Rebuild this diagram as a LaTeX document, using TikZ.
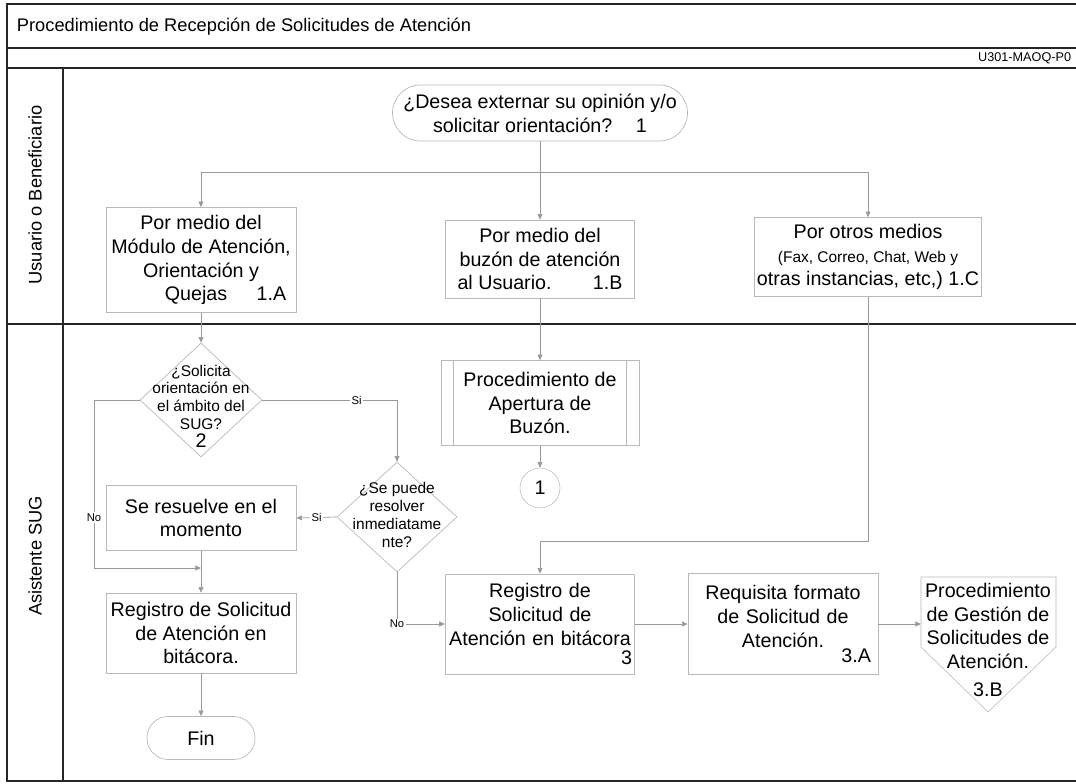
\documentclass[tikz,border=0pt]{standalone}
\usepackage{fontspec}
\setmainfont{Liberation Sans}
\usetikzlibrary{shapes.geometric,arrows.meta}
\newcommand{\boxfont}{\fontsize{14}{17}\selectfont}
\newcommand{\askfont}{\fontsize{11}{12.6}\selectfont}
\newcommand{\notefont}{\fontsize{11}{13}\selectfont}
\newcommand{\tagfont}{\fontsize{8}{9}\selectfont}
\begin{document}
\begin{tikzpicture}[
  proc/.style={draw=gray!55, line width=0.5pt, align=center, font=\boxfont, inner sep=2pt},
  term/.style={proc, rounded corners=0.7cm},
  decision/.style={draw=gray!55, line width=0.5pt, diamond, inner sep=0pt},
  ask/.style={align=center, font=\askfont, inner sep=0pt},
  flow/.style={draw=gray!80, line width=0.5pt, -{Triangle[length=4pt,width=3.5pt]}},
  tag/.style={fill=white, font=\tagfont, inner sep=1pt},
  lane/.style={rotate=90, font=\fontsize{13}{15}\selectfont},
  frame/.style={line width=1.2pt, draw=black!85}
]
\useasboundingbox (0,0) rectangle (26.9,-19.6);

% frame and lanes
\draw[frame] (27,-0.1) -- (0.175,-0.1) -- (0.175,-19.525) -- (27,-19.525);
\draw[frame] (0.175,-1.2) -- (27,-1.2);
\draw[frame] (0.175,-1.7) -- (27,-1.7);
\draw[frame] (0.175,-8.1) -- (27,-8.1);
\draw[frame] (1.575,-1.7) -- (1.575,-19.525);

\node[anchor=west, font=\fontsize{13}{15}\selectfont] at (0.3,-0.675) (title) {Procedimiento de Recepción de Solicitudes de Atención};
\node[anchor=east, font=\fontsize{9}{10}\selectfont] at (26.9,-1.45) (code) {U301-MAOQ-P0};
\node[lane] at (0.875,-4.875) (lane1) {Usuario o Beneficiario};
\node[lane] at (0.875,-13.9) (lane2) {Asistente SUG};

% user lane
\node[term, minimum width=7.375cm, minimum height=1.4cm] at (13.5,-2.825) (start) {¿Desea externar su opinión y/o\\ solicitar orientación?\hspace{1.2em}1};
\node[proc, minimum width=4.75cm, minimum height=2.625cm] at (5.025,-6.5) (A1) {Por medio del\\ Módulo de Atención,\\ Orientación y\\ \hspace*{2.5em}Quejas\hspace{1.5em}1.A};
\node[proc, minimum width=4.725cm, minimum height=1.95cm] at (13.5,-6.475) (B1) {Por medio del\\ buzón de atención\\ al Usuario.\hspace{2.1em}1.B};
\node[proc, minimum width=4.75cm, minimum height=1.975cm] at (21.7,-6.425) (C1) {Por otros medios\\ \notefont (Fax, Correo, Chat, Web y\\ otras instancias, etc,) {\boxfont 1.C}};

% SUG lane
\node[decision, minimum width=3.05cm, minimum height=2.85cm] at (5.025,-10.0) (d2) {};
\node[ask] at (5.025,-10.15) (d2t) {¿Solicita\\ orientación en\\ el ámbito del\\ SUG?\\ {\boxfont 2}};
\node[decision, minimum width=3.0cm, minimum height=2.75cm] at (9.925,-12.925) (d3) {};
\node[ask] at (9.925,-12.875) (d3t) {¿Se puede\\ resolver\\ inmediatame\\ nte?};
\node[proc, minimum width=4.75cm, minimum height=1.625cm] at (5.025,-12.95) (resolve) {Se resuelve en el\\ momento};
\node[proc, minimum width=4.75cm, minimum height=2.0cm] at (5.025,-15.825) (reg1) {Registro de Solicitud\\ de Atención en\\ bitácora.};
\node[term, rounded corners=0.53cm, minimum width=2.7cm, minimum height=1.075cm] at (5.025,-18.45) (fin) {Fin};
\node[proc, minimum width=4.95cm, minimum height=2.125cm] at (13.5,-10.075) (apert) {Procedimiento de\\ Apertura de\\ Buzón.};
\draw[draw=gray!55] ([xshift=0.325cm]apert.north west) -- ([xshift=0.325cm]apert.south west);
\draw[draw=gray!55] ([xshift=-0.325cm]apert.north east) -- ([xshift=-0.325cm]apert.south east);
\node[draw=gray!55, circle, minimum size=1.0cm, inner sep=0pt, font=\boxfont] at (13.5,-12.2) (circ1) {1};
\node[proc, minimum width=4.725cm, minimum height=2.5cm, text width=4.6cm] at (13.5,-15.6) (reg3) {Registro de\\ Solicitud de\\ Atención en bitácora\\[-3pt] \mbox{}\hfill 3};
\node[proc, minimum width=4.75cm, minimum height=2.525cm, text width=4.4cm] at (19.575,-15.6) (req) {Requisita formato\\ de Solicitud de\\ Atención.\\[-6pt] \mbox{}\hfill 3.A};
\draw[draw=gray!55] (23.025,-14.425) -- (26.4,-14.425) -- (26.4,-16.175) -- (24.7,-17.8) -- (23.025,-16.175) -- cycle;
\node[align=center, font=\boxfont, inner sep=0pt] at (24.7,-16.0) (gest) {Procedimiento\\ de Gestión de\\ Solicitudes de\\ Atención.\\[3pt] 3.B};

% connectors
\coordinate (split) at (13.5,-4.3);
\coordinate (nobend) at (2.35,-14.2);
\coordinate (join) at (5.025,-14.2);
\coordinate (merge) at (21.7,-13.525);
\coordinate (gestin) at (23.025,-15.6);
\draw[draw=gray!80, line width=0.5pt] (start) -- (split);
\draw[flow] (split) -| (A1.north);
\draw[flow] (split) -- (B1);
\draw[flow] (split) -| (C1.north);
\draw[flow] (A1) -- (d2);
\draw[flow] (d2.east) -| node[tag, pos=0.35] {Si} (d3.north);
\draw[flow] (d3.west) -- node[tag] {Si} (resolve.east);
\draw[flow] (d2.west) -| node[tag, pos=0.85] {No} (nobend) -- (join);
\draw[flow] (resolve) -- (reg1);
\draw[flow] (reg1) -- (fin);
\draw[flow] (d3.south) |- node[tag, pos=0.5] {No} (reg3.west);
\draw[flow] (B1) -- (apert);
\draw[flow] (apert) -- (circ1);
\draw[flow] (C1.south) -- (merge) -| (reg3.north);
\draw[flow] (reg3) -- (req);
\draw[flow] (req) -- (gestin);
\end{tikzpicture}
\end{document}
